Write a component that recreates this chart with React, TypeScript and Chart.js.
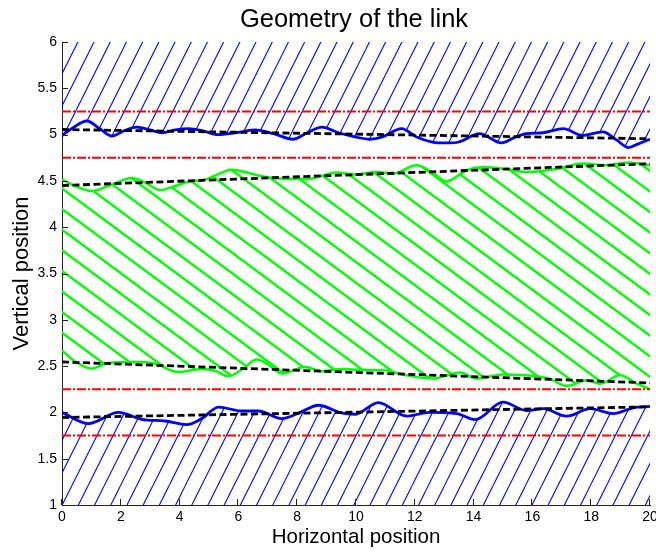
import React, { useEffect, useRef } from "react";
import { Chart, registerables } from "chart.js";
Chart.register(...registerables);

// ---- data ----
const topBlueX = [0, 0.4, 0.84, 1.3, 1.69, 2.1, 2.54, 3.0, 3.4, 3.85, 4.3, 4.8, 5.3, 5.9, 6.55, 7.2, 7.85, 8.35, 8.84, 9.4, 9.97, 10.48, 10.9, 11.55, 12.06, 12.6, 13.1, 13.5, 14.2, 14.95, 15.4, 15.8, 16.37, 17.05, 17.7, 18.4, 18.87, 19.27, 19.6, 20];
const topBlueY = [4.99, 5.08, 5.147, 5.06, 4.985, 5.04, 5.08, 5.05, 5.02, 5.05, 5.065, 5.04, 5.0, 5.02, 5.05, 5.01, 4.95, 5.02, 5.08, 5.02, 4.975, 4.95, 4.975, 5.065, 4.975, 4.92, 4.91, 4.92, 5.01, 4.91, 4.97, 5.01, 5.02, 5.065, 4.99, 5.03, 4.94, 4.86, 4.9, 4.95];

const topGreenX = [0, 0.4, 1.01, 1.7, 2.37, 2.85, 3.33, 3.8, 4.3, 4.86, 5.3, 5.77, 6.3, 6.79, 7.69, 8.37, 8.9, 9.3, 9.97, 10.7, 11.26, 12.06, 12.6, 13.08, 13.76, 14.32, 15.24, 15.8, 16.83, 17.7, 18.5, 19.3, 20];
const topGreenY = [4.517, 4.45, 4.39, 4.46, 4.53, 4.48, 4.4, 4.44, 4.49, 4.514, 4.57, 4.62, 4.59, 4.55, 4.52, 4.52, 4.56, 4.59, 4.57, 4.596, 4.58, 4.67, 4.59, 4.495, 4.615, 4.65, 4.62, 4.596, 4.63, 4.687, 4.67, 4.7, 4.67];

const bottomGreenX = [0, 0.4, 1.0, 1.56, 2.7, 3.16, 3.95, 4.75, 5.2, 5.65, 6.15, 6.62, 7.0, 7.47, 8.27, 8.84, 9.5, 9.97, 10.93, 11.72, 12.62, 13.54, 14.1, 15.0, 16.15, 16.6, 17.17, 17.85, 18.3, 18.98, 19.55, 20];
const bottomGreenY = [2.67, 2.56, 2.473, 2.533, 2.544, 2.527, 2.436, 2.47, 2.45, 2.39, 2.47, 2.57, 2.52, 2.42, 2.49, 2.445, 2.47, 2.46, 2.455, 2.4, 2.365, 2.43, 2.365, 2.41, 2.39, 2.36, 2.285, 2.347, 2.31, 2.4, 2.31, 2.25];

const bottomBlueX = [0, 0.9, 1.92, 2.71, 3.5, 4.24, 4.75, 5.33, 6.11, 6.68, 7.47, 8.1, 8.72, 9.5, 9.97, 10.76, 11.72, 12.5, 13.43, 14.05, 15.0, 15.8, 16.37, 17.17, 17.96, 18.75, 19.43, 20];
const bottomBlueY = [2.0, 1.879, 2.0, 1.925, 1.907, 1.868, 1.933, 2.058, 2.015, 2.015, 1.933, 2.0, 2.077, 1.994, 1.98, 2.106, 1.96, 2.0, 1.987, 1.922, 2.11, 2.02, 2.04, 1.96, 2.04, 1.987, 2.05, 2.065];

const trendX = [0, 20];
const topBlueTrend = [5.055, 4.955];
const topGreenTrend = [4.45, 4.685];
const bottomGreenTrend = [2.545, 2.318];
const bottomBlueTrend = [1.945, 2.06];

const limitLevels = [5.25, 4.75, 2.25, 1.75];

const xRange = [0, 20];
const yRange = [1, 6];

const FONT = '"Liberation Sans", Arial, Helvetica, sans-serif';

function pts(xs: number[], ys: number[]) {
  return xs.map((x, i) => ({ x, y: ys[i] }));
}

// steep hatch (up-right), lines X + Y/2 = phase + k*16.2 in canvas pixels; tile 81x162 is exactly periodic
function blueHatch(ctx: CanvasRenderingContext2D, phase: number) {
  const S = 16.2, W = 81, H = 162;
  const c = document.createElement("canvas");
  c.width = W; c.height = H;
  const g = c.getContext("2d")!;
  g.strokeStyle = "#0000ff";
  g.lineWidth = 1.1;
  for (let k = -3; k <= 13; k++) {
    const x0 = phase + k * S;
    g.beginPath(); g.moveTo(x0, 0); g.lineTo(x0 - H / 2, H); g.stroke();
  }
  return ctx.createPattern(c, "repeat")!;
}

// shallow hatch (down-right), lines Y - (20.6/27.8) X = phase + k*20.6; tile 139x103 is exactly periodic
function greenHatch(ctx: CanvasRenderingContext2D, phase: number) {
  const SY = 20.6, SX = 27.8, W = 139, H = 103;
  const c = document.createElement("canvas");
  c.width = W; c.height = H;
  const g = c.getContext("2d")!;
  g.strokeStyle = "#00ff00";
  g.lineWidth = 2.4;
  const m = SY / SX;
  for (let k = -12; k <= 8; k++) {
    const y0 = phase + k * SY;
    g.beginPath(); g.moveTo(-2, y0 - 2 * m); g.lineTo(W + 2, y0 + (W + 2) * m); g.stroke();
  }
  return ctx.createPattern(c, "repeat")!;
}

const titlePlugin = {
  id: "matlabTitle",
  afterDraw(chart: any) {
    const { ctx, chartArea } = chart;
    ctx.save();
    ctx.font = `25.5px ${FONT}`;
    ctx.fillStyle = "#000";
    ctx.textAlign = "center";
    ctx.textBaseline = "alphabetic";
    ctx.fillText("Geometry of the link", (chartArea.left + chartArea.right) / 2 - 2, 27);
    ctx.restore();
  },
};

const inwardTicks = {
  id: "inwardTicks",
  afterDraw(chart: any) {
    const { ctx, chartArea, scales } = chart;
    ctx.save();
    ctx.strokeStyle = "#222";
    ctx.lineWidth = 1;
    ctx.beginPath();
    for (const t of scales.y.ticks) {
      const py = Math.round(scales.y.getPixelForValue(t.value)) + 0.5;
      ctx.moveTo(chartArea.left, py);
      ctx.lineTo(chartArea.left + 6, py);
    }
    for (const t of scales.x.ticks) {
      const px = Math.round(scales.x.getPixelForValue(t.value)) - 0.5;
      ctx.moveTo(px, chartArea.bottom);
      ctx.lineTo(px, chartArea.bottom - 6);
    }
    ctx.stroke();
    ctx.restore();
  },
};

export default function App() {
  const ref = useRef<HTMLCanvasElement>(null);
  useEffect(() => {
    const canvas = ref.current!;
    const ctx = canvas.getContext("2d")!;
    const line = (data: any, color: string, width: number, dash: number[] = []) => ({
      data, borderColor: color, borderWidth: width, borderDash: dash,
      pointRadius: 0, fill: false, borderCapStyle: "butt",
    });
    const datasets: any[] = [
      ...limitLevels.map((v) => line(trendX.map((x) => ({ x, y: v })), "#ff0000", 2, [9, 2, 2, 2])),
      line(pts(trendX, topBlueTrend), "#000", 2.8, [7, 3.5]),
      line(pts(trendX, topGreenTrend), "#000", 2.8, [7, 3.5]),
      line(pts(trendX, bottomGreenTrend), "#000", 2.8, [7, 3.5]),
      line(pts(trendX, bottomBlueTrend), "#000", 2.8, [7, 3.5]),
      { ...line(pts(topBlueX, topBlueY), "#0000ff", 2.8), fill: "end", backgroundColor: blueHatch(ctx, 1.65) },
      { ...line(pts(topGreenX, topGreenY), "#00ff00", 2.5), fill: 10, backgroundColor: greenHatch(ctx, 18.9) },
      line(pts(bottomGreenX, bottomGreenY), "#00ff00", 2.5),
      { ...line(pts(bottomBlueX, bottomBlueY), "#0000ff", 2.8), fill: "start", backgroundColor: blueHatch(ctx, 6.9) },
    ];
    const tickFont = { family: FONT, size: 14 };
    const chart = new Chart(canvas, {
      type: "line",
      data: { datasets },
      options: {
        animation: false,
        responsive: false,
        devicePixelRatio: 1,
        layout: { padding: { top: 42, right: 0, bottom: 0, left: 0 } },
        elements: { line: { cubicInterpolationMode: "monotone" }, point: { radius: 0 } },
        plugins: {
          legend: { display: false },
          tooltip: { enabled: false },
          title: { display: false },
          filler: { drawTime: "beforeDatasetsDraw", propagate: false },
        },
        scales: {
          x: {
            type: "linear", min: xRange[0], max: xRange[1],
            afterFit: (s: any) => { s.height = 47; s.paddingRight = 6; s.paddingLeft = 0; },
            ticks: { stepSize: 2, color: "#000", font: tickFont, padding: 4, maxRotation: 0, autoSkip: false },
            grid: { drawOnChartArea: false, drawTicks: false },
            border: { display: true, color: "#222", width: 1 },
            title: { display: true, text: "Horizontal position", color: "#000", font: { family: FONT, size: 20.5 }, padding: { top: 0, bottom: 2 } },
          },
          y: {
            type: "linear", min: yRange[0], max: yRange[1],
            afterFit: (s: any) => { s.width = 62; s.paddingTop = 0; s.paddingBottom = 0; },
            ticks: {
              stepSize: 0.5, color: "#000", font: tickFont, padding: 5, autoSkip: false,
              callback: (v: any) => String(Math.round(Number(v) * 10) / 10),
            },
            grid: { drawOnChartArea: false, drawTicks: false },
            border: { display: true, color: "#222", width: 1 },
            title: { display: true, text: "Vertical position", color: "#000", font: { family: FONT, size: 22 }, padding: { top: 9, bottom: 0 } },
          },
        },
      } as any,
      plugins: [titlePlugin, inwardTicks],
    });
    return () => chart.destroy();
  }, []);
  return (
    <div style={{ position: "absolute", left: 0, top: 0, width: 656, height: 552, background: "#fff" }}>
      <canvas ref={ref} width={656} height={552} style={{ width: 656, height: 552, display: "block" }} />
    </div>
  );
}
